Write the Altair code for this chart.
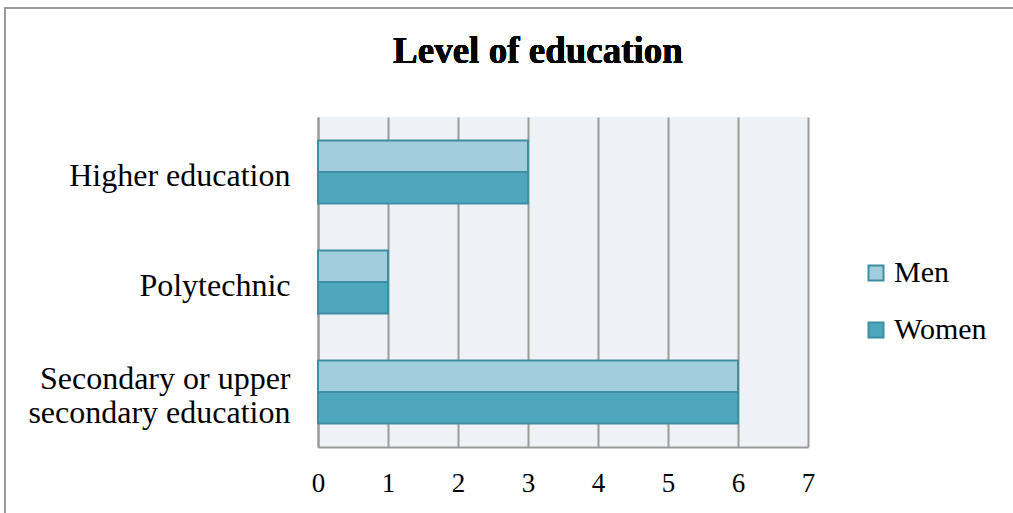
import altair as alt
import pandas as pd

categories = ["Higher education", "Polytechnic", "Secondary or upper secondary education"]
men = [3, 1, 6]
women = [3, 1, 6]
series = ["Men", "Women"]
title_text = "Level of education"

rows = []
for c, m, w in zip(categories, men, women):
    rows.append({"level": c, "sex": "Men", "count": m})
    rows.append({"level": c, "sex": "Women", "count": w})
df = pd.DataFrame(rows)

serif = "Liberation Serif"
W, H = 490, 330
long_label = "Secondary or upper secondary education"

wrap_expr = (
    f"datum.label == '{long_label}' ? "
    "['Secondary or upper', 'secondary education'] : datum.label"
)

base = alt.Chart(df)

bars = base.mark_bar(stroke="#3E8EA2", strokeWidth=2).encode(
    x=alt.X(
        "count:Q",
        scale=alt.Scale(domain=[0, 7], nice=False),
        axis=alt.Axis(
            values=list(range(8)),
            title=None,
            grid=True,
            gridColor="#9A9A9A",
            gridWidth=2,
            domainColor="#9A9A9A",
            domainWidth=2,
            ticks=False,
            labelFlush=False,
            labelFont=serif,
            labelFontSize=27,
            labelColor="#000000",
            labelPadding=23,
            format="d",
        ),
    ),
    y=alt.Y(
        "level:N",
        sort=categories,
        scale=alt.Scale(paddingInner=0.4286, paddingOuter=0.2143),
        axis=alt.Axis(
            title=None,
            ticks=False,
            domainColor="#9A9A9A",
            domainWidth=2,
            labelFont=serif,
            labelFontSize=32,
            labelColor="#000000",
            labelPadding=28,
            labelLineHeight=34,
            labelExpr=wrap_expr,
            labelLimit=400,
            labelOffset=alt.condition(
                alt.datum.value == long_label, alt.value(-13), alt.value(4)
            ),
        ),
    ),
    yOffset=alt.YOffset("sex:N", sort=series),
    color=alt.Color(
        "sex:N",
        sort=series,
        scale=alt.Scale(domain=series, range=["#A1CDDC", "#4FA7BE"]),
        legend=alt.Legend(
            title=None,
            orient="none",
            legendX=543,
            legendY=141,
            symbolType="square",
            symbolSize=225,
            symbolStrokeColor="#3E8EA2",
            symbolStrokeWidth=2,
            labelFont=serif,
            labelFontSize=30,
            labelColor="#000000",
            rowPadding=27,
            labelOffset=3,
        ),
    ),
)

# chart heading
heading = base.mark_text(
    text=title_text,
    font=serif,
    fontSize=37,
    fontWeight="bold",
    color="#000000",
    align="center",
    baseline="alphabetic",
).encode(x=alt.value(220), y=alt.value(-54))

# outer frame of the figure
frame = base.mark_rect(
    fill="transparent", stroke="#9A9A9A", strokeWidth=2, clip=False
).encode(
    x=alt.value(-313),
    x2=alt.value(720),
    y=alt.value(-109),
    y2=alt.value(420),
)

chart = (
    alt.layer(frame, bars, heading)
    .properties(
        width=W,
        height=H,
        view=alt.ViewBackground(fill="#EEF2F6", stroke=None),
        autosize=alt.AutoSizeParams(type="none"),
        padding={"left": 318, "top": 117, "right": 205, "bottom": 66},
    )
    .configure(background="#FFFFFF")
)

chart.save("out.html", embed_options={"renderer": "svg", "actions": False})
